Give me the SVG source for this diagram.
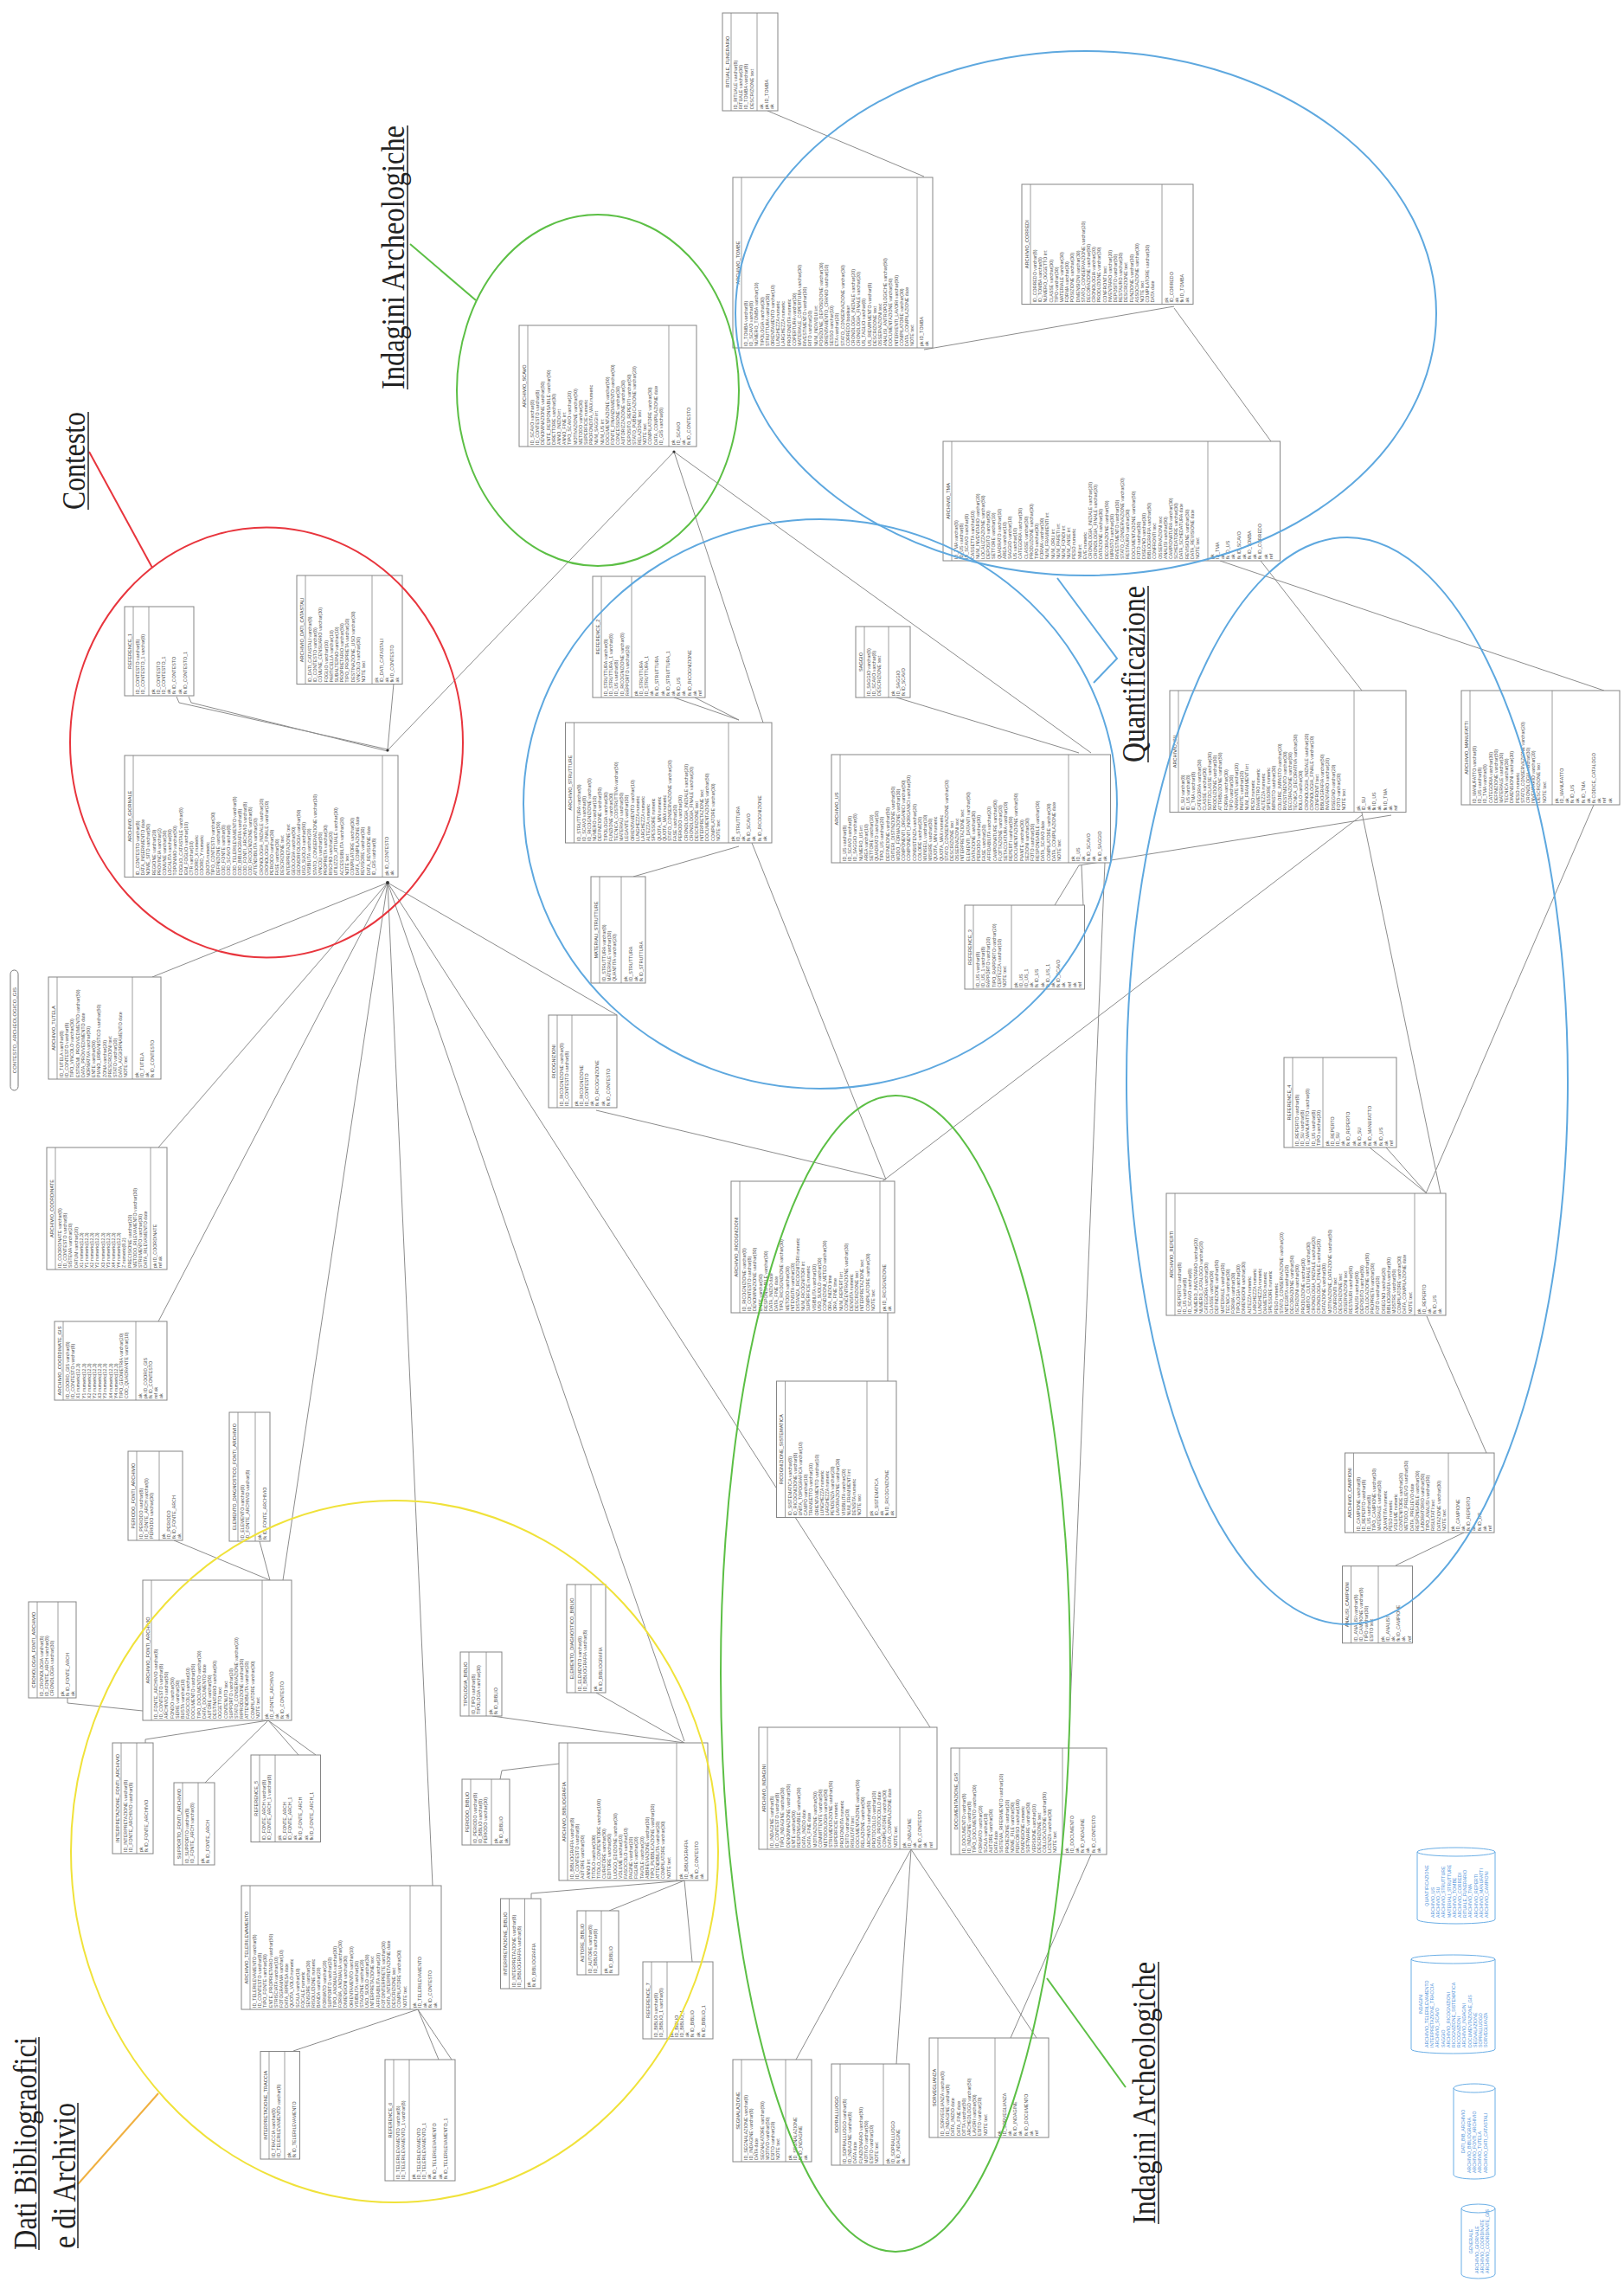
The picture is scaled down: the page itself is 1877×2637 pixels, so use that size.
<svg xmlns="http://www.w3.org/2000/svg" width="1877" height="2637" viewBox="0 0 1877 2637">
<style>
.tb rect{fill:#fff;stroke:#858585;stroke-width:1}
.tb path{fill:none;stroke:#858585;stroke-width:.8}
.tb text{font-family:"Liberation Sans",Arial,sans-serif;font-size:5.3px;fill:#4e4e4e}
.tb .h{text-anchor:middle;font-size:5.6px;fill:#444}
.cn path{fill:none;stroke:#8c8c8c;stroke-width:1}
.grp{fill:none;stroke-width:2}
.lbl{font-family:"Liberation Serif","Times New Roman",serif;font-size:38px;fill:#222}
.ul{stroke:#222;stroke-width:1.5}
.cy path{fill:#fff;stroke:#6aaee6;stroke-width:1}
.cy text{font-family:"Liberation Sans",Arial,sans-serif;font-size:5.2px;fill:#4a90d9}
.cy .h{text-anchor:middle}
</style>
<rect width="1877" height="2637" fill="#fff"/>
<g id="connectors" class="cn">
<path d="M887 128L1068 204"/><path d="M1357 354L1068 404"/><path d="M1357 356L1469 510"/>
<path d="M204 805L207 812L448 866"/><path d="M218 805L221 812L448 868"/><path d="M455 790L448 866"/>
<path d="M448 867L779 522"/><path d="M448 1020L176 1129"/><path d="M448 1020L183 1326"/><path d="M448 1020L183 1527"/>
<path d="M448 1020L327 1826"/><path d="M448 1020L500 2179"/><path d="M448 1020L791 2012"/><path d="M448 1020L1075 1996"/>
<path d="M448 1020L713 1173"/><path d="M779 522L882 835"/><path d="M779 522L1261 870"/>
<path d="M779 806L854 832"/><path d="M803 806L854 832"/><path d="M854 978L732 1013"/>
<path d="M869 974L1024 1363"/><path d="M689 1283L1024 1363"/><path d="M1036 806L1247 870"/>
<path d="M1247 1000L1608 942"/><path d="M1247 1000L1219 1046"/><path d="M1250 1000L1252 1046"/>
<path d="M1277 997L1235 2020"/><path d="M1457 648L1574 798"/><path d="M1410 648L1854 798"/>
<path d="M1574 939L1665 1379"/><path d="M1842 930L1648 1379"/><path d="M1574 942L1020 1365"/>
<path d="M1583 1326L1649 1379"/><path d="M1602 1326L1649 1379"/><path d="M1649 1521L1718 1679"/>
<path d="M1613 1809L1692 1771"/><path d="M1026 1596L1026 1517"/>
<path d="M78 1962L78 1968L165 1977"/><path d="M201 1780L312 1826"/><path d="M300 1781L312 1826"/>
<path d="M310 1988L168 2010L168 2014"/><path d="M310 1988L237 2060"/><path d="M310 1988L345 2028"/><path d="M310 1988L365 2028"/>
<path d="M483 2322L339 2370"/><path d="M483 2322L507 2380"/><path d="M483 2322L522 2380"/>
<path d="M569 1983L791 2014"/><path d="M689 1956L791 2014"/><path d="M578 2056L580 2046L646 2038"/>
<path d="M791 2173L614 2188L614 2194"/><path d="M791 2173L704 2208"/><path d="M791 2173L800 2267"/>
<path d="M1053 2137L920 2380"/><path d="M1053 2137L1036 2385"/><path d="M1053 2137L1198 2355"/><path d="M1261 2143L1168 2355"/>
<circle cx="448" cy="1020" r="2" fill="#333"/><circle cx="448" cy="867" r="1.6" fill="#333"/><circle cx="779" cy="522" r="1.6" fill="#333"/>
</g>

<g id="t-rituale" class="tb" transform="translate(835,128) rotate(-90)">
<rect width="113" height="64"/><path d="M0 10H113M0 40H113"/><text class="h" x="56.5" y="7.5">RITUALE_FUNERARIO</text>
<g transform="translate(2,0)"><text y="17">ID_RITUALE varchar(8)</text><text y="23.2">RITUALE varchar(30)</text><text y="29.4">ID_TOMBA varchar(8)</text><text y="35.6">DESCRIZIONE text</text>
<text y="46.5">ak</text><text y="52.7">pk ID_TOMBA</text><text y="58.9">ak</text></g></g>

<g id="t-tombe" class="tb" transform="translate(847,402) rotate(-90)">
<rect width="197" height="231"/><path d="M0 10H197M0 213H197"/><text class="h" x="98.5" y="7.5">ARCHIVIO_TOMBE</text>
<g transform="translate(2,0)"><text y="17">ID_TOMBA varchar(8)</text><text y="23.2">ID_SCAVO varchar(8)</text><text y="29.4">NUMERO_TOMBA varchar(10)</text><text y="35.6">TIPOLOGIA varchar(30)</text><text y="41.8">STRUTTURA varchar(30)</text><text y="48">ORIENTAMENTO varchar(10)</text><text y="54.2">LUNGHEZZA numeric</text><text y="60.4">LARGHEZZA numeric</text><text y="66.6">PROFONDITA numeric</text><text y="72.8">COPERTURA varchar(30)</text><text y="79">MATERIALE_COPERTURA varchar(30)</text><text y="85.2">RIVESTIMENTO varchar(30)</text><text y="91.4">RITO varchar(20)</text><text y="97.6">NUM_INDIVIDUI int</text><text y="103.8">POSIZIONE_DEPOSIZIONE varchar(30)</text><text y="110">ORIENTAMENTO_CRANIO varchar(10)</text><text y="116.2">SESSO varchar(10)</text><text y="122.4">ETA varchar(20)</text><text y="128.6">STATO_CONSERVAZIONE varchar(30)</text><text y="134.8">CORREDO boolean</text><text y="141">CRONOLOGIA_INIZIALE varchar(20)</text><text y="147.2">CRONOLOGIA_FINALE varchar(20)</text><text y="153.4">US_TAGLIO varchar(8)</text><text y="159.6">US_RIEMPIMENTO varchar(8)</text><text y="165.8">DESCRIZIONE text</text><text y="172">OSSERVAZIONI text</text><text y="178.2">ANALISI_ANTROPOLOGICHE varchar(50)</text><text y="184.4">DOCUMENTAZIONE varchar(50)</text><text y="190.6">INTERVENTI_LAVORI varchar(50)</text><text y="196.8">COMPILATORE varchar(30)</text><text y="203">DATA_COMPILAZIONE date</text><text y="209.2">NOTE text</text>
<text y="219.5">pk ID_TOMBA</text><text y="225.7">ak</text></g></g>

<g id="t-corredo" class="tb" transform="translate(1181,351.5) rotate(-90)">
<rect width="138.5" height="198"/><path d="M0 10H138.5M0 162H138.5"/><text class="h" x="69.25" y="7.5">ARCHIVIO_CORREDI</text>
<g transform="translate(2,0)"><text y="17">ID_CORREDO varchar(8)</text><text y="23.2">ID_TOMBA varchar(8)</text><text y="29.4">NUMERO_OGGETTO int</text><text y="35.6">CLASSE varchar(30)</text><text y="41.8">TIPO varchar(30)</text><text y="48">MATERIALE varchar(30)</text><text y="54.2">FORMA varchar(30)</text><text y="60.4">POSIZIONE varchar(30)</text><text y="66.6">DIMENSIONI varchar(30)</text><text y="72.8">STATO_CONSERVAZIONE varchar(20)</text><text y="79">DECORAZIONE varchar(50)</text><text y="85.2">CRONOLOGIA varchar(20)</text><text y="91.4">PRODUZIONE varchar(30)</text><text y="97.6">CONFRONTI text</text><text y="103.8">INVENTARIO varchar(20)</text><text y="110">DEPOSITO varchar(50)</text><text y="116.2">RESTAURO varchar(30)</text><text y="122.4">DESCRIZIONE text</text><text y="128.6">FUNZIONE varchar(30)</text><text y="134.8">ASSOCIAZIONE varchar(30)</text><text y="141">NOTE text</text><text y="147.2">COMPILATORE varchar(30)</text><text y="153.4">DATA date</text>
<text y="168.5">pk</text><text y="174.7">ID_CORREDO</text><text y="180.9">ak</text><text y="187.1">fk ID_TOMBA</text><text y="193.3">ak</text></g></g>

<g id="t-tma" class="tb" transform="translate(1090,648) rotate(-90)">
<rect width="138" height="389.5"/><path d="M0 10H138M0 306H138"/><text class="h" x="69" y="7.5">ARCHIVIO_TMA</text>
<g transform="translate(2,0)"><text y="17">ID_TMA varchar(8)</text><text y="23.2">ID_US varchar(8)</text><text y="29.4">ID_SCAVO varchar(8)</text><text y="35.6">CASSETTA varchar(10)</text><text y="41.8">NUM_INVENTARIO varchar(20)</text><text y="48">LOCALIZZAZIONE varchar(50)</text><text y="54.2">DEPOSITO varchar(50)</text><text y="60.4">SETTORE varchar(10)</text><text y="66.6">QUADRATO varchar(10)</text><text y="72.8">AREA varchar(10)</text><text y="79">SAGGIO varchar(10)</text><text y="85.2">US varchar(10)</text><text y="91.4">CATEGORIA varchar(30)</text><text y="97.6">CLASSE varchar(30)</text><text y="103.8">PRODUZIONE varchar(30)</text><text y="110">TIPO varchar(30)</text><text y="116.2">FORMA varchar(30)</text><text y="122.4">NUM_FRAMMENTI int</text><text y="128.6">NUM_ORLI int</text><text y="134.8">NUM_PARETI int</text><text y="141">NUM_FONDI int</text><text y="147.2">NUM_ANSE int</text><text y="153.4">PESO numeric</text><text y="159.6">NMI int</text><text y="165.8">EVE numeric</text><text y="172">CRONOLOGIA_INIZIALE varchar(20)</text><text y="178.2">CRONOLOGIA_FINALE varchar(20)</text><text y="184.4">DATAZIONE varchar(30)</text><text y="190.6">DECORAZIONE varchar(50)</text><text y="196.8">IMPASTO varchar(30)</text><text y="203">RIVESTIMENTO varchar(30)</text><text y="209.2">STATO_CONSERVAZIONE varchar(20)</text><text y="215.4">RESTAURO varchar(30)</text><text y="221.6">DOCUMENTAZIONE varchar(50)</text><text y="227.8">FOTO varchar(30)</text><text y="234">DISEGNO varchar(30)</text><text y="240.2">BIBLIOGRAFIA varchar(50)</text><text y="246.4">CONFRONTI text</text><text y="252.6">OSSERVAZIONI text</text><text y="258.8">ANALISI varchar(50)</text><text y="265">CAMPIONATURA varchar(30)</text><text y="271.2">SCHEDATORE varchar(30)</text><text y="277.4">DATA_SCHEDATURA date</text><text y="283.6">REVISIONE varchar(30)</text><text y="289.8">DATA_REVISIONE date</text><text y="296">NOTE text</text>
<text y="312.5">pk</text><text y="318.7">ID_TMA</text><text y="324.9">ak</text><text y="331.1">fk ID_US</text><text y="337.3">ak</text><text y="343.5">fk ID_SCAVO</text><text y="349.7">ak</text><text y="355.9">fk ID_TOMBA</text><text y="362.1">ak</text><text y="368.3">fk ID_CORREDO</text><text y="374.5">ak</text><text y="380.7">ref</text></g></g>

<g id="t-scavo" class="tb" transform="translate(600,516) rotate(-90)">
<rect width="140" height="205"/><path d="M0 10H140M0 173H140"/><text class="h" x="70" y="7.5">ARCHIVIO_SCAVO</text>
<g transform="translate(2,0)"><text y="17">ID_SCAVO varchar(8)</text><text y="23.2">ID_CONTESTO varchar(8)</text><text y="29.4">DENOMINAZIONE varchar(50)</text><text y="35.6">ENTE_RESPONSABILE varchar(50)</text><text y="41.8">DIRETTORE varchar(30)</text><text y="48">ANNO_INIZIO int</text><text y="54.2">ANNO_FINE int</text><text y="60.4">TIPO_SCAVO varchar(20)</text><text y="66.6">MOTIVAZIONE varchar(50)</text><text y="72.8">METODO varchar(30)</text><text y="79">SUPERFICIE numeric</text><text y="85.2">PROFONDITA_MAX numeric</text><text y="91.4">NUM_SAGGI int</text><text y="97.6">NUM_US int</text><text y="103.8">DOCUMENTAZIONE varchar(50)</text><text y="110">FONTE_FINANZIAMENTO varchar(50)</text><text y="116.2">CONCESSIONE varchar(30)</text><text y="122.4">AUTORIZZAZIONE varchar(30)</text><text y="128.6">DEPOSITO_REPERTI varchar(50)</text><text y="134.8">STATO_PUBBLICAZIONE varchar(20)</text><text y="141">RELAZIONE text</text><text y="147.2">NOTE text</text><text y="153.4">COMPILATORE varchar(30)</text><text y="159.6">DATA_COMPILAZIONE date</text><text y="165.8">ID_GIS varchar(8)</text>
<text y="179.5">pk</text><text y="185.7">ID_SCAVO</text><text y="191.9">ak</text><text y="198.1">fk ID_CONTESTO</text></g></g>

<g id="t-ref1" class="tb" transform="translate(144,804) rotate(-90)">
<rect width="103" height="80"/><path d="M0 10H103M0 28H103"/><text class="h" x="51.5" y="7.5">REFERENCE_1</text>
<g transform="translate(2,0)"><text y="17">ID_CONTESTO varchar(8)</text><text y="23.2">ID_CONTESTO_1 varchar(8)</text>
<text y="34.5">pk</text><text y="40.7">ID_CONTESTO</text><text y="46.9">ID_CONTESTO_1</text><text y="53.1">ak</text><text y="59.3">fk ID_CONTESTO</text><text y="65.5">ak</text><text y="71.7">fk ID_CONTESTO_1</text></g></g>

<g id="t-catastali" class="tb" transform="translate(343,790.5) rotate(-90)">
<rect width="125.5" height="122"/><path d="M0 10H125.5M0 87H125.5"/><text class="h" x="62.75" y="7.5">ARCHIVIO_DATI_CATASTALI</text>
<g transform="translate(2,0)"><text y="17">ID_DATI_CATASTALI varchar(8)</text><text y="23.2">ID_CONTESTO varchar(8)</text><text y="29.4">COMUNE_CENSUARIO varchar(30)</text><text y="35.6">FOGLIO varchar(10)</text><text y="41.8">PARTICELLA varchar(10)</text><text y="48">SUBALTERNO varchar(10)</text><text y="54.2">PROPRIETARIO varchar(50)</text><text y="60.4">TIPO_PROPRIETA varchar(20)</text><text y="66.6">DESTINAZIONE_USO varchar(30)</text><text y="72.8">VINCOLO varchar(30)</text><text y="79">NOTE text</text>
<text y="93.5">pk</text><text y="99.7">ID_DATI_CATASTALI</text><text y="105.9">ak</text><text y="112.1">fk ID_CONTESTO</text><text y="118.3">ak</text></g></g>

<g id="t-giornale" class="tb" transform="translate(144,1013.6) rotate(-90)">
<rect width="140.6" height="316"/><path d="M0 10H140.6M0 298H140.6"/><text class="h" x="70.3" y="7.5">ARCHIVIO_GIORNALE</text>
<g transform="translate(2,0)"><text y="17">ID_CONTESTO varchar(8)</text><text y="23.2">DATA_INSERIMENTO date</text><text y="29.4">NOME_SITO varchar(50)</text><text y="35.6">REGIONE varchar(20)</text><text y="41.8">PROVINCIA varchar(2)</text><text y="48">COMUNE varchar(30)</text><text y="54.2">LOCALITA varchar(50)</text><text y="60.4">TOPONIMO varchar(50)</text><text y="66.6">FOGLIO_CATASTALE varchar(8)</text><text y="72.8">IGM_FOGLIO varchar(10)</text><text y="79">CTR varchar(10)</text><text y="85.2">COORD_X numeric</text><text y="91.4">COORD_Y numeric</text><text y="97.6">QUOTA numeric</text><text y="103.8">TIPO_CONTESTO varchar(30)</text><text y="110">DEFINIZIONE varchar(50)</text><text y="116.2">COD_FONTE varchar(8)</text><text y="122.4">COD_SCAVO varchar(8)</text><text y="128.6">COD_TELERILEVAMENTO varchar(8)</text><text y="134.8">COD_BIBLIOGRAFIA varchar(8)</text><text y="141">COD_FONTI_ARCHIVIO varchar(8)</text><text y="147.2">COD_RICOGNIZIONE varchar(8)</text><text y="153.4">ATTENDIBILITA varchar(20)</text><text y="159.6">CRONOLOGIA_INIZIALE varchar(20)</text><text y="165.8">CRONOLOGIA_FINALE varchar(20)</text><text y="172">PERIODO varchar(30)</text><text y="178.2">FASE varchar(30)</text><text y="184.4">DESCRIZIONE text</text><text y="190.6">INTERPRETAZIONE text</text><text y="196.8">GEOLOGIA varchar(50)</text><text y="203">GEOMORFOLOGIA varchar(50)</text><text y="209.2">USO_SUOLO varchar(50)</text><text y="215.4">VISIBILITA varchar(20)</text><text y="221.6">STATO_CONSERVAZIONE varchar(30)</text><text y="227.8">VINCOLI varchar(50)</text><text y="234">PROPRIETA varchar(30)</text><text y="240.2">RISCHIO varchar(20)</text><text y="246.4">UTILIZZO_ATTUALE varchar(30)</text><text y="252.6">ACCESSIBILITA varchar(20)</text><text y="258.8">NOTE text</text><text y="265">COMPILATORE varchar(30)</text><text y="271.2">DATA_COMPILAZIONE date</text><text y="277.4">REVISORE varchar(30)</text><text y="283.6">DATA_REVISIONE date</text><text y="289.8">ID_GIS varchar(8)</text>
<text y="304.5">pk ID_CONTESTO</text><text y="310.7">ak</text></g></g>

<g id="t-tutela" class="tb" transform="translate(56,1247) rotate(-90)">
<rect width="118" height="130"/><path d="M0 10H118M0 97H118"/><text class="h" x="59" y="7.5">ARCHIVIO_TUTELA</text>
<g transform="translate(2,0)"><text y="17">ID_TUTELA varchar(8)</text><text y="23.2">ID_CONTESTO varchar(8)</text><text y="29.4">TIPO_VINCOLO varchar(30)</text><text y="35.6">ESTREMI_PROVVEDIMENTO varchar(50)</text><text y="41.8">DATA_PROVVEDIMENTO date</text><text y="48">NORMATIVA varchar(50)</text><text y="54.2">ENTE varchar(50)</text><text y="60.4">PIANO_URBANISTICO varchar(50)</text><text y="66.6">ZONA varchar(20)</text><text y="72.8">PRESCRIZIONI text</text><text y="79">STATO varchar(20)</text><text y="85.2">DATA_AGGIORNAMENTO date</text><text y="91.4">NOTE text</text>
<text y="103.5">pk</text><text y="109.7">ID_TUTELA</text><text y="115.9">ak</text><text y="122.1">fk ID_CONTESTO</text></g></g>

<g id="n-gis" transform="translate(19.5,1190.5) rotate(-90)">
<rect x="-69.5" y="-7.5" width="139" height="9" rx="4.5" fill="#fff" stroke="#777" stroke-width="1"/>
<text x="0" y="-1" text-anchor="middle" font-family="Liberation Sans, Arial, sans-serif" font-size="6" fill="#555">CONTESTO_ARCHEOLOGICO_GIS</text></g>

<g id="t-ref2" class="tb" transform="translate(685,806) rotate(-90)">
<rect width="140" height="130"/><path d="M0 10H140M0 45H140"/><text class="h" x="70" y="7.5">REFERENCE_2</text>
<g transform="translate(2,0)"><text y="17">ID_STRUTTURA varchar(8)</text><text y="23.2">ID_STRUTTURA_1 varchar(8)</text><text y="29.4">ID_US varchar(8)</text><text y="35.6">ID_RICOGNIZIONE varchar(8)</text><text y="41.8">RAPPORTO varchar(20)</text>
<text y="51.5">pk</text><text y="57.7">ID_STRUTTURA</text><text y="63.9">ID_STRUTTURA_1</text><text y="70.1">ak</text><text y="76.3">fk ID_STRUTTURA</text><text y="82.5">ak</text><text y="88.7">fk ID_STRUTTURA_1</text><text y="94.9">ak</text><text y="101.1">fk ID_US</text><text y="107.3">ak</text><text y="113.5">fk ID_RICOGNIZIONE</text><text y="119.7">ak</text><text y="125.9">ref</text></g></g>

<g id="t-strutture" class="tb" transform="translate(653.5,974) rotate(-90)">
<rect width="139" height="238.5"/><path d="M0 10H139M0 188.5H139"/><text class="h" x="69.5" y="7.5">ARCHIVIO_STRUTTURE</text>
<g transform="translate(2,0)"><text y="17">ID_STRUTTURA varchar(8)</text><text y="23.2">ID_SCAVO varchar(8)</text><text y="29.4">ID_RICOGNIZIONE varchar(8)</text><text y="35.6">NUMERO varchar(10)</text><text y="41.8">DEFINIZIONE varchar(50)</text><text y="48">TIPOLOGIA varchar(30)</text><text y="54.2">FUNZIONE varchar(30)</text><text y="60.4">TECNICA_COSTRUTTIVA varchar(50)</text><text y="66.6">MATERIALI varchar(50)</text><text y="72.8">LEGANTE varchar(30)</text><text y="79">ORIENTAMENTO varchar(10)</text><text y="85.2">LUNGHEZZA numeric</text><text y="91.4">LARGHEZZA numeric</text><text y="97.6">ALTEZZA numeric</text><text y="103.8">SPESSORE numeric</text><text y="110">QUOTA_MIN numeric</text><text y="116.2">QUOTA_MAX numeric</text><text y="122.4">STATO_CONSERVAZIONE varchar(20)</text><text y="128.6">FASE varchar(20)</text><text y="134.8">PERIODO varchar(30)</text><text y="141">CRONOLOGIA_INIZIALE varchar(20)</text><text y="147.2">CRONOLOGIA_FINALE varchar(20)</text><text y="153.4">DESCRIZIONE text</text><text y="159.6">INTERPRETAZIONE text</text><text y="165.8">DOCUMENTAZIONE varchar(50)</text><text y="172">COMPILATORE varchar(30)</text><text y="178.2">NOTE text</text>
<text y="195">pk</text><text y="201.2">ID_STRUTTURA</text><text y="207.4">ak</text><text y="213.6">fk ID_SCAVO</text><text y="219.8">ak</text><text y="226">fk ID_RICOGNIZIONE</text><text y="232.2">ak</text></g></g>

<g id="t-materiali" class="tb" transform="translate(683,1136) rotate(-90)">
<rect width="123" height="63"/><path d="M0 10H123M0 35H123"/><text class="h" x="61.5" y="7.5">MATERIALI_STRUTTURE</text>
<g transform="translate(2,0)"><text y="17">ID_STRUTTURA varchar(8)</text><text y="23.2">MATERIALE varchar(30)</text><text y="29.4">QUANTITA varchar(20)</text>
<text y="41.5">pk</text><text y="47.7">ID_STRUTTURA</text><text y="53.9">ak</text><text y="60.1">fk ID_STRUTTURA</text></g></g>

<g id="t-ricognizioni" class="tb" transform="translate(634,1280) rotate(-90)">
<rect width="107" height="79"/><path d="M0 10H107M0 27H107"/><text class="h" x="53.5" y="7.5">RICOGNIZIONI</text>
<g transform="translate(2,0)"><text y="17">ID_RICOGNIZIONE varchar(8)</text><text y="23.2">ID_CONTESTO varchar(8)</text>
<text y="33.5">pk</text><text y="39.7">ID_RICOGNIZIONE</text><text y="45.9">ID_CONTESTO</text><text y="52.1">ak</text><text y="58.3">fk ID_RICOGNIZIONE</text><text y="64.5">ak</text><text y="70.7">fk ID_CONTESTO</text></g></g>

<g id="t-saggio" class="tb" transform="translate(989,806) rotate(-90)">
<rect width="82" height="63"/><path d="M0 10H82M0 38H82"/><text class="h" x="41" y="7.5">SAGGIO</text>
<g transform="translate(2,0)"><text y="17">ID_SAGGIO varchar(8)</text><text y="23.2">ID_SCAVO varchar(8)</text><text y="29.4">DESCRIZIONE text</text>
<text y="44.5">pk</text><text y="50.7">ID_SAGGIO</text><text y="56.9">fk ID_SCAVO</text></g></g>

<g id="t-us" class="tb" transform="translate(961,997) rotate(-90)">
<rect width="125" height="322.5"/><path d="M0 10H125M0 274H125"/><text class="h" x="62.5" y="7.5">ARCHIVIO_US</text>
<g transform="translate(2,0)"><text y="17">ID_US varchar(8)</text><text y="23.2">ID_SCAVO varchar(8)</text><text y="29.4">ID_SAGGIO varchar(8)</text><text y="35.6">NUMERO_US int</text><text y="41.8">AREA varchar(10)</text><text y="48">SETTORE varchar(10)</text><text y="54.2">QUADRATO varchar(10)</text><text y="60.4">TIPO_US varchar(20)</text><text y="66.6">DEFINIZIONE varchar(50)</text><text y="72.8">CRITERI_DISTINZIONE varchar(50)</text><text y="79">MODO_FORMAZIONE varchar(30)</text><text y="85.2">COMPONENTI_ORGANICI varchar(50)</text><text y="91.4">COMPONENTI_INORGANICI varchar(50)</text><text y="97.6">CONSISTENZA varchar(20)</text><text y="103.8">COLORE varchar(20)</text><text y="110">MUNSELL varchar(10)</text><text y="116.2">MISURE varchar(30)</text><text y="122.4">QUOTA_MIN numeric</text><text y="128.6">QUOTA_MAX numeric</text><text y="134.8">STATO_CONSERVAZIONE varchar(20)</text><text y="141">DESCRIZIONE text</text><text y="147.2">OSSERVAZIONI text</text><text y="153.4">INTERPRETAZIONE text</text><text y="159.6">ELEMENTI_DATANTI varchar(50)</text><text y="165.8">DATAZIONE varchar(30)</text><text y="172">PERIODO varchar(30)</text><text y="178.2">FASE varchar(20)</text><text y="184.4">AFFIDABILITA varchar(20)</text><text y="190.6">CAMPIONATURE varchar(50)</text><text y="196.8">FLOTTAZIONE varchar(20)</text><text y="203">SETACCIATURA varchar(20)</text><text y="209.2">REPERTI varchar(50)</text><text y="215.4">DOCUMENTAZIONE varchar(50)</text><text y="221.6">PIANTE varchar(30)</text><text y="227.8">SEZIONI varchar(30)</text><text y="234">FOTO varchar(30)</text><text y="240.2">RESPONSABILE varchar(30)</text><text y="246.4">DATA_SCAVO date</text><text y="252.6">COMPILATORE varchar(30)</text><text y="258.8">DATA_COMPILAZIONE date</text><text y="265">NOTE text</text>
<text y="280.5">pk</text><text y="286.7">ID_US</text><text y="292.9">ak</text><text y="299.1">fk ID_SCAVO</text><text y="305.3">ak</text><text y="311.5">fk ID_SAGGIO</text><text y="317.7">ak</text></g></g>

<g id="t-ref3" class="tb" transform="translate(1115,1143) rotate(-90)">
<rect width="97" height="138.5"/><path d="M0 10H97M0 54H97"/><text class="h" x="48.5" y="7.5">REFERENCE_3</text>
<g transform="translate(2,0)"><text y="17">ID_US varchar(8)</text><text y="23.2">ID_US_1 varchar(8)</text><text y="29.4">RAPPORTO varchar(20)</text><text y="35.6">TIPO_RAPPORTO varchar(20)</text><text y="41.8">CERTEZZA varchar(10)</text><text y="48">NOTE text</text>
<text y="60.5">pk</text><text y="66.7">ID_US</text><text y="72.9">ID_US_1</text><text y="79.1">ak</text><text y="85.3">fk ID_US</text><text y="91.5">ak</text><text y="97.7">fk ID_US_1</text><text y="103.9">ak</text><text y="110.1">fk ID_SCAVO</text><text y="116.3">ak</text><text y="122.5">ref</text><text y="128.7">ak</text><text y="134.9">ref</text></g></g>

<g id="t-su" class="tb" transform="translate(1352,938.6) rotate(-90)">
<rect width="140.6" height="273"/><path d="M0 10H140.6M0 213H140.6"/><text class="h" x="70.3" y="7.5">ARCHIVIO_SU</text>
<g transform="translate(2,0)"><text y="17">ID_SU varchar(8)</text><text y="23.2">ID_US varchar(8)</text><text y="29.4">ID_TMA varchar(8)</text><text y="35.6">CATEGORIA varchar(30)</text><text y="41.8">CLASSE varchar(30)</text><text y="48">SOTTOCLASSE varchar(30)</text><text y="54.2">PRODUZIONE varchar(30)</text><text y="60.4">ATTRIBUZIONE varchar(50)</text><text y="66.6">FORMA varchar(30)</text><text y="72.8">TIPO varchar(30)</text><text y="79">VARIANTE varchar(20)</text><text y="85.2">PARTE varchar(20)</text><text y="91.4">NUM_FRAMMENTI int</text><text y="97.6">PESO numeric</text><text y="103.8">DIAMETRO numeric</text><text y="110">ALTEZZA numeric</text><text y="116.2">SPESSORE numeric</text><text y="122.4">IMPASTO varchar(30)</text><text y="128.6">COLORE_IMPASTO varchar(20)</text><text y="134.8">RIVESTIMENTO varchar(30)</text><text y="141">DECORAZIONE varchar(50)</text><text y="147.2">TECNICA_DECORATIVA varchar(30)</text><text y="153.4">BOLLO varchar(30)</text><text y="159.6">CRONOLOGIA_INIZIALE varchar(20)</text><text y="165.8">CRONOLOGIA_FINALE varchar(20)</text><text y="172">CONFRONTI text</text><text y="178.2">BIBLIOGRAFIA varchar(50)</text><text y="184.4">INVENTARIO varchar(20)</text><text y="190.6">DISEGNO varchar(20)</text><text y="196.8">FOTO varchar(20)</text><text y="203">NOTE text</text>
<text y="219.5">pk</text><text y="225.7">ID_SU</text><text y="231.9">ak</text><text y="238.1">fk ID_US</text><text y="244.3">ak</text><text y="250.5">fk ID_TMA</text><text y="256.7">ak</text><text y="262.9">ref</text></g></g>

<g id="t-manufatti" class="tb" transform="translate(1689,930) rotate(-90)">
<rect width="132" height="183"/><path d="M0 10H132M0 105H132"/><text class="h" x="66" y="7.5">ARCHIVIO_MANUFATTI</text>
<g transform="translate(2,0)"><text y="17">ID_MANUFATTO varchar(8)</text><text y="23.2">ID_US varchar(8)</text><text y="29.4">ID_TMA varchar(8)</text><text y="35.6">CATEGORIA varchar(30)</text><text y="41.8">DEFINIZIONE varchar(50)</text><text y="48">MATERIALE varchar(30)</text><text y="54.2">TECNICA varchar(30)</text><text y="60.4">DIMENSIONI varchar(30)</text><text y="66.6">PESO numeric</text><text y="72.8">STATO_CONSERVAZIONE varchar(20)</text><text y="79">CRONOLOGIA varchar(30)</text><text y="85.2">INVENTARIO varchar(20)</text><text y="91.4">DESCRIZIONE text</text><text y="97.6">NOTE text</text>
<text y="111.5">pk</text><text y="117.7">ID_MANUFATTO</text><text y="123.9">ak</text><text y="130.1">fk ID_US</text><text y="136.3">ak</text><text y="142.5">fk ID_TMA</text><text y="148.7">ak</text><text y="154.9">fk CODICE_CATALOGO</text><text y="161.1">ak</text><text y="167.3">ref</text><text y="173.5">ak</text></g></g>

<g id="t-ref4" class="tb" transform="translate(1484,1326) rotate(-90)">
<rect width="104" height="130"/><path d="M0 10H104M0 45H104"/><text class="h" x="52" y="7.5">REFERENCE_4</text>
<g transform="translate(2,0)"><text y="17">ID_REPERTO varchar(8)</text><text y="23.2">ID_SU varchar(8)</text><text y="29.4">ID_MANUFATTO varchar(8)</text><text y="35.6">ID_US varchar(8)</text><text y="41.8">TIPO varchar(20)</text>
<text y="51.5">pk</text><text y="57.7">ID_REPERTO</text><text y="63.9">ID_SU</text><text y="70.1">ak</text><text y="76.3">fk ID_REPERTO</text><text y="82.5">ak</text><text y="88.7">fk ID_SU</text><text y="94.9">ak</text><text y="101.1">fk ID_MANUFATTO</text><text y="107.3">ak</text><text y="113.5">fk ID_US</text><text y="119.7">ak</text><text y="125.9">ref</text></g></g>

<g id="t-reperti" class="tb" transform="translate(1348,1520) rotate(-90)">
<rect width="141" height="323"/><path d="M0 10H141M0 287H141"/><text class="h" x="70.5" y="7.5">ARCHIVIO_REPERTI</text>
<g transform="translate(2,0)"><text y="17">ID_REPERTO varchar(8)</text><text y="23.2">ID_US varchar(8)</text><text y="29.4">ID_SCAVO varchar(8)</text><text y="35.6">NUMERO_INVENTARIO varchar(20)</text><text y="41.8">NUMERO_CATALOGO varchar(20)</text><text y="48">CATEGORIA varchar(30)</text><text y="54.2">CLASSE varchar(30)</text><text y="60.4">DEFINIZIONE varchar(50)</text><text y="66.6">MATERIALE varchar(30)</text><text y="72.8">TECNICA varchar(30)</text><text y="79">FORMA varchar(30)</text><text y="85.2">TIPOLOGIA varchar(30)</text><text y="91.4">DIMENSIONI varchar(30)</text><text y="97.6">ALTEZZA numeric</text><text y="103.8">LARGHEZZA numeric</text><text y="110">LUNGHEZZA numeric</text><text y="116.2">DIAMETRO numeric</text><text y="122.4">SPESSORE numeric</text><text y="128.6">PESO numeric</text><text y="134.8">STATO_CONSERVAZIONE varchar(20)</text><text y="141">INTEGRITA varchar(20)</text><text y="147.2">DECORAZIONE varchar(50)</text><text y="153.4">ISCRIZIONI varchar(50)</text><text y="159.6">PRODUZIONE varchar(30)</text><text y="165.8">AMBITO_CULTURALE varchar(30)</text><text y="172">CRONOLOGIA_INIZIALE varchar(20)</text><text y="178.2">CRONOLOGIA_FINALE varchar(20)</text><text y="184.4">DATAZIONE varchar(30)</text><text y="190.6">MOTIVAZIONE_DATAZIONE varchar(50)</text><text y="196.8">CONFRONTI text</text><text y="203">DESCRIZIONE text</text><text y="209.2">OSSERVAZIONI text</text><text y="215.4">RESTAURI varchar(50)</text><text y="221.6">ANALISI varchar(50)</text><text y="227.8">DEPOSITO varchar(50)</text><text y="234">COLLOCAZIONE varchar(50)</text><text y="240.2">PROPRIETA varchar(30)</text><text y="246.4">FOTO varchar(20)</text><text y="252.6">DISEGNO varchar(20)</text><text y="258.8">BIBLIOGRAFIA varchar(50)</text><text y="265">MOSTRE varchar(50)</text><text y="271.2">COMPILATORE varchar(30)</text><text y="277.4">DATA_COMPILAZIONE date</text><text y="283.6">NOTE text</text>
<text y="293.5">pk</text><text y="299.7">ID_REPERTO</text><text y="305.9">ak</text><text y="312.1">fk ID_US</text><text y="318.3">ak</text></g></g>

<g id="t-campioni" class="tb" transform="translate(1554.5,1771) rotate(-90)">
<rect width="92" height="172.5"/><path d="M0 10H92M0 119.5H92"/><text class="h" x="46" y="7.5">ARCHIVIO_CAMPIONI</text>
<g transform="translate(2,0)"><text y="17">ID_CAMPIONE varchar(8)</text><text y="23.2">ID_REPERTO varchar(8)</text><text y="29.4">ID_US varchar(8)</text><text y="35.6">TIPO_CAMPIONE varchar(30)</text><text y="41.8">MATERIALE varchar(30)</text><text y="48">QUANTITA numeric</text><text y="54.2">PESO numeric</text><text y="60.4">VOLUME numeric</text><text y="66.6">CONTENITORE varchar(20)</text><text y="72.8">METODO_PRELIEVO varchar(30)</text><text y="79">DATA_PRELIEVO date</text><text y="85.2">RESPONSABILE varchar(30)</text><text y="91.4">LABORATORIO varchar(50)</text><text y="97.6">TIPO_ANALISI varchar(30)</text><text y="103.8">RISULTATI text</text><text y="110">DATAZIONE varchar(30)</text><text y="116.2">NOTE text</text>
<text y="126">pk</text><text y="132.2">ID_CAMPIONE</text><text y="138.4">ak</text><text y="144.6">fk ID_REPERTO</text><text y="150.8">ak</text><text y="157">fk ID_US</text><text y="163.2">ak</text><text y="169.4">ref</text></g></g>

<g id="t-analisi" class="tb" transform="translate(1551.5,1898.7) rotate(-90)">
<rect width="89" height="81"/><path d="M0 10H89M0 41.5H89"/><text class="h" x="44.5" y="7.5">ANALISI_CAMPIONI</text>
<g transform="translate(2,0)"><text y="17">ID_ANALISI varchar(8)</text><text y="23.2">ID_CAMPIONE varchar(8)</text><text y="29.4">TIPO varchar(30)</text><text y="35.6">ESITO text</text>
<text y="48">pk</text><text y="54.2">ID_ANALISI</text><text y="60.4">ak</text><text y="66.6">fk ID_CAMPIONE</text><text y="72.8">ak</text><text y="79">ref</text></g></g>

<g id="t-coord" class="tb" transform="translate(54,1467) rotate(-90)">
<rect width="141" height="139"/><path d="M0 10H141M0 120H141"/><text class="h" x="70.5" y="7.5">ARCHIVIO_COORDINATE</text>
<g transform="translate(2,0)"><text y="17">ID_COORDINATE varchar(8)</text><text y="23.2">ID_CONTESTO varchar(8)</text><text y="29.4">SISTEMA varchar(20)</text><text y="35.6">DATUM varchar(20)</text><text y="41.8">X1 numeric(12,3)</text><text y="48">Y1 numeric(12,3)</text><text y="54.2">X2 numeric(12,3)</text><text y="60.4">Y2 numeric(12,3)</text><text y="66.6">X3 numeric(12,3)</text><text y="72.8">Y3 numeric(12,3)</text><text y="79">X4 numeric(12,3)</text><text y="85.2">Y4 numeric(12,3)</text><text y="91.4">Z numeric(8,2)</text><text y="97.6">PRECISIONE varchar(20)</text><text y="103.8">METODO_RILEVAMENTO varchar(30)</text><text y="110">STRUMENTO varchar(30)</text><text y="116.2">DATA_RILEVAMENTO date</text>
<text y="126.5">pk ID_COORDINATE</text><text y="132.7">ref ak</text></g></g>

<g id="t-coordgis" class="tb" transform="translate(63,1618) rotate(-90)">
<rect width="91" height="130"/><path d="M0 10H91M0 94H91"/><text class="h" x="45.5" y="7.5">ARCHIVIO_COORDINATE_GIS</text>
<g transform="translate(2,0)"><text y="17">ID_COORD_GIS varchar(8)</text><text y="23.2">ID_CONTESTO varchar(8)</text><text y="29.4">X1 numeric(12,3)</text><text y="35.6">Y1 numeric(12,3)</text><text y="41.8">X2 numeric(12,3)</text><text y="48">Y2 numeric(12,3)</text><text y="54.2">X3 numeric(12,3)</text><text y="60.4">Y3 numeric(12,3)</text><text y="66.6">X4 numeric(12,3)</text><text y="72.8">Y4 numeric(12,3)</text><text y="79">TIPO_GEOMETRIA varchar(20)</text><text y="85.2">COD_QUADRANTE varchar(10)</text>
<text y="100.5">ak</text><text y="106.7">pk ID_COORD_GIS</text><text y="112.9">fk ID_CONTESTO</text><text y="119.1">ref ak</text><text y="125.3">ak</text></g></g>

<g id="t-periodo-fa" class="tb" transform="translate(148,1780) rotate(-90)">
<rect width="103" height="63"/><path d="M0 10H103M0 36H103"/><text class="h" x="51.5" y="7.5">PERIODO_FONTI_ARCHIVIO</text>
<g transform="translate(2,0)"><text y="17">ID_PERIODO varchar(8)</text><text y="23.2">ID_FONTE_ARCH varchar(8)</text><text y="29.4">PERIODO varchar(30)</text>
<text y="42.5">pk</text><text y="48.7">ID_PERIODO</text><text y="54.9">fk ID_FONTE_ARCH</text><text y="61.1">ak</text></g></g>

<g id="t-elem-fa" class="tb" transform="translate(265,1781) rotate(-90)">
<rect width="149" height="47"/><path d="M0 10H149M0 30H149"/><text class="h" x="74.5" y="7.5">ELEMENTO_DIAGNOSTICO_FONTI_ARCHIVIO</text>
<g transform="translate(2,0)"><text y="17">ID_ELEMENTO varchar(8)</text><text y="23.2">ID_FONTE_ARCHIVIO varchar(8)</text>
<text y="36.5">pk</text><text y="42.7">fk ID_FONTE_ARCHIVIO</text></g></g>

<g id="t-fonti" class="tb" transform="translate(165,1988) rotate(-90)">
<rect width="162" height="172"/><path d="M0 10H162M0 138H162"/><text class="h" x="81" y="7.5">ARCHIVIO_FONTI_ARCHIVIO</text>
<g transform="translate(2,0)"><text y="17">ID_FONTE_ARCHIVIO varchar(8)</text><text y="23.2">ID_CONTESTO varchar(8)</text><text y="29.4">ARCHIVIO varchar(50)</text><text y="35.6">FONDO varchar(50)</text><text y="41.8">SERIE varchar(30)</text><text y="48">BUSTA varchar(10)</text><text y="54.2">FASCICOLO varchar(10)</text><text y="60.4">DOCUMENTO varchar(50)</text><text y="66.6">TIPO_DOCUMENTO varchar(30)</text><text y="72.8">DATA_DOCUMENTO date</text><text y="79">AUTORE varchar(50)</text><text y="85.2">DESTINATARIO varchar(50)</text><text y="91.4">OGGETTO text</text><text y="97.6">CONTENUTO text</text><text y="103.8">SUPPORTO varchar(20)</text><text y="110">STATO_CONSERVAZIONE varchar(20)</text><text y="116.2">RIPRODUZIONE varchar(30)</text><text y="122.4">ATTENDIBILITA varchar(20)</text><text y="128.6">COMPILATORE varchar(30)</text><text y="134.8">NOTE text</text>
<text y="144.5">pk</text><text y="150.7">ID_FONTE_ARCHIVIO</text><text y="156.9">ak</text><text y="163.1">fk ID_CONTESTO</text><text y="169.3">ak</text></g></g>

<g id="t-crono-fa" class="tb" transform="translate(33,1962) rotate(-90)">
<rect width="111" height="55"/><path d="M0 10H111M0 34H111"/><text class="h" x="55.5" y="7.5">CRONOLOGIA_FONTI_ARCHIVIO</text>
<g transform="translate(2,0)"><text y="17">ID_CRONOLOGIA varchar(8)</text><text y="23.2">ID_FONTE_ARCH varchar(8)</text><text y="29.4">CRONOLOGIA varchar(30)</text>
<text y="40.5">pk</text><text y="46.7">fk ID_FONTE_ARCH</text><text y="52.9">ak</text></g></g>

<g id="t-ricog" class="tb" transform="translate(845,1517) rotate(-90)">
<rect width="152" height="189"/><path d="M0 10H152M0 172H152"/><text class="h" x="76" y="7.5">ARCHIVIO_RICOGNIZIONI</text>
<g transform="translate(2,0)"><text y="17">ID_RICOGNIZIONE varchar(8)</text><text y="23.2">ID_CONTESTO varchar(8)</text><text y="29.4">DENOMINAZIONE varchar(50)</text><text y="35.6">ENTE varchar(50)</text><text y="41.8">RESPONSABILE varchar(30)</text><text y="48">DATA_INIZIO date</text><text y="54.2">DATA_FINE date</text><text y="60.4">TIPO_RICOGNIZIONE varchar(30)</text><text y="66.6">METODO varchar(30)</text><text y="72.8">INTENSITA varchar(20)</text><text y="79">DISTANZA_RICOGNITORI numeric</text><text y="85.2">NUM_RICOGNITORI int</text><text y="91.4">SUPERFICIE numeric</text><text y="97.6">VISIBILITA varchar(20)</text><text y="103.8">USO_SUOLO varchar(30)</text><text y="110">CONDIZIONI_METEO varchar(30)</text><text y="116.2">ORA_INIZIO time</text><text y="122.4">ORA_FINE time</text><text y="128.6">NUM_REPERTI int</text><text y="134.8">CONCENTRAZIONE varchar(30)</text><text y="141">DENSITA numeric</text><text y="147.2">DESCRIZIONE text</text><text y="153.4">INTERPRETAZIONE text</text><text y="159.6">COMPILATORE varchar(30)</text><text y="165.8">NOTE text</text>
<text y="178.5">pk ID_RICOGNIZIONE</text><text y="184.7">ak</text></g></g>

<g id="t-sist" class="tb" transform="translate(897.5,1753.5) rotate(-90)">
<rect width="157.5" height="138.5"/><path d="M0 10H157.5M0 104.5H157.5"/><text class="h" x="78.75" y="7.5">RICOGNIZIONE_SISTEMATICA</text>
<g transform="translate(2,0)"><text y="17">ID_SISTEMATICA varchar(8)</text><text y="23.2">ID_RICOGNIZIONE varchar(8)</text><text y="29.4">UNITA_TOPOGRAFICA varchar(10)</text><text y="35.6">CAMPO varchar(10)</text><text y="41.8">TRANSETTO varchar(10)</text><text y="48">ORIENTAMENTO varchar(10)</text><text y="54.2">LUNGHEZZA numeric</text><text y="60.4">LARGHEZZA numeric</text><text y="66.6">PENDENZA varchar(20)</text><text y="72.8">LAVORAZIONE varchar(30)</text><text y="79">VISIBILITA varchar(20)</text><text y="85.2">NUM_FRAMMENTI int</text><text y="91.4">DENSITA numeric</text><text y="97.6">NOTE text</text>
<text y="111">pk</text><text y="117.2">ID_SISTEMATICA</text><text y="123.4">ak</text><text y="129.6">fk ID_RICOGNIZIONE</text><text y="135.8">ak</text></g></g>

<g id="t-tipo-bib" class="tb" transform="translate(532,1983) rotate(-90)">
<rect width="74" height="48"/><path d="M0 10H74M0 30H74"/><text class="h" x="37" y="7.5">TIPOLOGIA_BIBLIO</text>
<g transform="translate(2,0)"><text y="17">ID_TIPO varchar(8)</text><text y="23.2">TIPOLOGIA varchar(30)</text>
<text y="36.5">pk</text><text y="42.7">fk ID_BIBLIO</text></g></g>

<g id="t-elem-bib" class="tb" transform="translate(655,1956) rotate(-90)">
<rect width="125" height="45"/><path d="M0 10H125M0 28H125"/><text class="h" x="62.5" y="7.5">ELEMENTO_DIAGNOSTICO_BIBLIO</text>
<g transform="translate(2,0)"><text y="17">ID_ELEMENTO varchar(8)</text><text y="23.2">ID_BIBLIOGRAFIA varchar(8)</text>
<text y="34.5">pk</text><text y="40.7">fk ID_BIBLIOGRAFIA</text></g></g>

<g id="t-interp-fa" class="tb" transform="translate(130,2142) rotate(-90)">
<rect width="128" height="47"/><path d="M0 10H128M0 28H128"/><text class="h" x="64" y="7.5">INTERPRETAZIONE_FONTI_ARCHIVIO</text>
<g transform="translate(2,0)"><text y="17">ID_INTERPRETAZIONE varchar(8)</text><text y="23.2">ID_FONTE_ARCHIVIO varchar(8)</text>
<text y="34.5">pk</text><text y="40.7">fk ID_FONTE_ARCHIVIO</text></g></g>

<g id="t-supp-fa" class="tb" transform="translate(201,2155) rotate(-90)">
<rect width="95" height="47"/><path d="M0 10H95M0 28H95"/><text class="h" x="47.5" y="7.5">SUPPORTO_FONTI_ARCHIVIO</text>
<g transform="translate(2,0)"><text y="17">ID_SUPPORTO varchar(8)</text><text y="23.2">ID_FONTE_ARCH varchar(8)</text>
<text y="34.5">pk</text><text y="40.7">fk ID_FONTE_ARCH</text></g></g>

<g id="t-ref5" class="tb" transform="translate(290,2128.5) rotate(-90)">
<rect width="100.5" height="80.5"/><path d="M0 10H100.5M0 28H100.5"/><text class="h" x="50.25" y="7.5">REFERENCE_5</text>
<g transform="translate(2,0)"><text y="17">ID_FONTE_ARCH varchar(8)</text><text y="23.2">ID_FONTE_ARCH_1 varchar(8)</text>
<text y="34.5">pk</text><text y="40.7">ID_FONTE_ARCH</text><text y="46.9">ID_FONTE_ARCH_1</text><text y="53.1">ak</text><text y="59.3">fk ID_FONTE_ARCH</text><text y="65.5">ak</text><text y="71.7">fk ID_FONTE_ARCH_1</text></g></g>

<g id="t-tele" class="tb" transform="translate(279,2322) rotate(-90)">
<rect width="143" height="231"/><path d="M0 10H143M0 195H143"/><text class="h" x="71.5" y="7.5">ARCHIVIO_TELERILEVAMENTO</text>
<g transform="translate(2,0)"><text y="17">ID_TELERILEVAMENTO varchar(8)</text><text y="23.2">ID_CONTESTO varchar(8)</text><text y="29.4">TIPO_FONTE varchar(30)</text><text y="35.6">ENTE_PROPRIETARIO varchar(50)</text><text y="41.8">STRISCIATA varchar(10)</text><text y="48">FOTOGRAMMA varchar(10)</text><text y="54.2">DATA_RIPRESA date</text><text y="60.4">QUOTA_VOLO numeric</text><text y="66.6">SCALA varchar(10)</text><text y="72.8">FOCALE numeric</text><text y="79">SENSORE varchar(30)</text><text y="85.2">RISOLUZIONE numeric</text><text y="91.4">BANDA varchar(20)</text><text y="97.6">FORMATO varchar(20)</text><text y="103.8">SUPPORTO varchar(20)</text><text y="110">TIPO_ANOMALIA varchar(30)</text><text y="116.2">FORMA_ANOMALIA varchar(30)</text><text y="122.4">DIMENSIONI varchar(30)</text><text y="128.6">ORIENTAMENTO varchar(10)</text><text y="134.8">VISIBILITA varchar(20)</text><text y="141">STAGIONE varchar(20)</text><text y="147.2">USO_SUOLO varchar(30)</text><text y="153.4">INTERPRETAZIONE text</text><text y="159.6">AFFIDABILITA varchar(20)</text><text y="165.8">FOTOINTERPRETE varchar(30)</text><text y="172">DATA_INTERPRETAZIONE date</text><text y="178.2">DESCRIZIONE text</text><text y="184.4">COMPILATORE varchar(30)</text><text y="190.6">NOTE text</text>
<text y="201.5">pk</text><text y="207.7">ID_TELERILEVAMENTO</text><text y="213.9">ak</text><text y="220.1">fk ID_CONTESTO</text><text y="226.3">ak</text></g></g>

<g id="t-interp-tr" class="tb" transform="translate(301,2495) rotate(-90)">
<rect width="124.5" height="45.5"/><path d="M0 10H124.5M0 28H124.5"/><text class="h" x="62.25" y="7.5">INTERPRETAZIONE_TRACCIA</text>
<g transform="translate(2,0)"><text y="17">ID_TRACCIA varchar(8)</text><text y="23.2">ID_TELERILEVAMENTO varchar(8)</text>
<text y="34.5">pk</text><text y="40.7">fk ID_TELERILEVAMENTO</text></g></g>

<g id="t-ref6" class="tb" transform="translate(445,2520) rotate(-90)">
<rect width="140" height="81"/><path d="M0 10H140M0 28H140"/><text class="h" x="70" y="7.5">REFERENCE_6</text>
<g transform="translate(2,0)"><text y="17">ID_TELERILEVAMENTO varchar(8)</text><text y="23.2">ID_TELERILEVAMENTO_1 varchar(8)</text>
<text y="34.5">pk</text><text y="40.7">ID_TELERILEVAMENTO</text><text y="46.9">ID_TELERILEVAMENTO_1</text><text y="53.1">ak</text><text y="59.3">fk ID_TELERILEVAMENTO</text><text y="65.5">ak</text><text y="71.7">fk ID_TELERILEVAMENTO_1</text></g></g>

<g id="t-bib" class="tb" transform="translate(646,2173) rotate(-90)">
<rect width="159" height="172"/><path d="M0 10H159M0 136H159"/><text class="h" x="79.5" y="7.5">ARCHIVIO_BIBLIOGRAFIA</text>
<g transform="translate(2,0)"><text y="17">ID_BIBLIOGRAFIA varchar(8)</text><text y="23.2">ID_CONTESTO varchar(8)</text><text y="29.4">AUTORE varchar(50)</text><text y="35.6">ANNO int</text><text y="41.8">TITOLO varchar(100)</text><text y="48">TITOLO_CONTENITORE varchar(100)</text><text y="54.2">CURATORE varchar(50)</text><text y="60.4">EDITORE varchar(50)</text><text y="66.6">LUOGO_EDIZIONE varchar(30)</text><text y="72.8">VOLUME varchar(10)</text><text y="79">FASCICOLO varchar(10)</text><text y="85.2">PAGINE varchar(20)</text><text y="91.4">FIGURE varchar(20)</text><text y="97.6">TAVOLE varchar(20)</text><text y="103.8">ABBREVIAZIONE varchar(30)</text><text y="110">TIPO_PUBBLICAZIONE varchar(30)</text><text y="116.2">ATTENDIBILITA varchar(20)</text><text y="122.4">COMPILATORE varchar(30)</text><text y="128.6">NOTE text</text>
<text y="142.5">pk</text><text y="148.7">ID_BIBLIOGRAFIA</text><text y="154.9">ak</text><text y="161.1">fk ID_CONTESTO</text><text y="167.3">ak</text></g></g>

<g id="t-periodo-bib" class="tb" transform="translate(534,2132) rotate(-90)">
<rect width="76" height="55"/><path d="M0 10H76M0 34H76"/><text class="h" x="38" y="7.5">PERIODO_BIBLIO</text>
<g transform="translate(2,0)"><text y="17">ID_PERIODO varchar(8)</text><text y="23.2">ID_BIBLIO varchar(8)</text><text y="29.4">PERIODO varchar(30)</text>
<text y="40.5">pk</text><text y="46.7">fk ID_BIBLIO</text><text y="52.9">ak</text></g></g>

<g id="t-interp-bib" class="tb" transform="translate(578.5,2298) rotate(-90)">
<rect width="104" height="46.5"/><path d="M0 10H104M0 28H104"/><text class="h" x="52" y="7.5">INTERPRETAZIONE_BIBLIO</text>
<g transform="translate(2,0)"><text y="17">ID_INTERPRETAZIONE varchar(8)</text><text y="23.2">ID_BIBLIOGRAFIA varchar(8)</text>
<text y="34.5">pk</text><text y="40.7">fk ID_BIBLIOGRAFIA</text></g></g>

<g id="t-autore-bib" class="tb" transform="translate(667,2282) rotate(-90)">
<rect width="74" height="48"/><path d="M0 10H74M0 28H74"/><text class="h" x="37" y="7.5">AUTORE_BIBLIO</text>
<g transform="translate(2,0)"><text y="17">ID_AUTORE varchar(8)</text><text y="23.2">ID_BIBLIO varchar(8)</text>
<text y="34.5">pk</text><text y="40.7">fk ID_BIBLIO</text></g></g>

<g id="t-ref7" class="tb" transform="translate(743,2356) rotate(-90)">
<rect width="89" height="81"/><path d="M0 10H89M0 28H89"/><text class="h" x="44.5" y="7.5">REFERENCE_7</text>
<g transform="translate(2,0)"><text y="17">ID_BIBLIO varchar(8)</text><text y="23.2">ID_BIBLIO_1 varchar(8)</text>
<text y="34.5">pk</text><text y="40.7">ID_BIBLIO</text><text y="46.9">ID_BIBLIO_1</text><text y="53.1">ak</text><text y="59.3">fk ID_BIBLIO</text><text y="65.5">ak</text><text y="71.7">fk ID_BIBLIO_1</text></g></g>

<g id="t-indagini" class="tb" transform="translate(877,2137) rotate(-90)">
<rect width="141" height="206"/><path d="M0 10H141M0 163H141"/><text class="h" x="70.5" y="7.5">ARCHIVIO_INDAGINI</text>
<g transform="translate(2,0)"><text y="17">ID_INDAGINE varchar(8)</text><text y="23.2">ID_CONTESTO varchar(8)</text><text y="29.4">TIPO_INDAGINE varchar(30)</text><text y="35.6">DENOMINAZIONE varchar(50)</text><text y="41.8">ENTE varchar(50)</text><text y="48">RESPONSABILE varchar(30)</text><text y="54.2">DATA_INIZIO date</text><text y="60.4">DATA_FINE date</text><text y="66.6">MOTIVAZIONE varchar(50)</text><text y="72.8">COMMITTENTE varchar(50)</text><text y="79">METODOLOGIA varchar(50)</text><text y="85.2">STRUMENTAZIONE varchar(50)</text><text y="91.4">SUPERFICIE numeric</text><text y="97.6">PROFONDITA numeric</text><text y="103.8">ESITO varchar(20)</text><text y="110">RISULTATI text</text><text y="116.2">DOCUMENTAZIONE varchar(50)</text><text y="122.4">RELAZIONE varchar(50)</text><text y="128.6">ARCHIVIO varchar(50)</text><text y="134.8">PROTOCOLLO varchar(20)</text><text y="141">DATA_PROTOCOLLO date</text><text y="147.2">COMPILATORE varchar(30)</text><text y="153.4">DATA_COMPILAZIONE date</text><text y="159.6">NOTE text</text>
<text y="169.5">pk</text><text y="175.7">ID_INDAGINE</text><text y="181.9">ak</text><text y="188.1">fk ID_CONTESTO</text><text y="194.3">ak</text><text y="200.5">ref</text></g></g>

<g id="t-doc" class="tb" transform="translate(1099,2143) rotate(-90)">
<rect width="123" height="180"/><path d="M0 10H123M0 129H123"/><text class="h" x="61.5" y="7.5">DOCUMENTAZIONE_GIS</text>
<g transform="translate(2,0)"><text y="17">ID_DOCUMENTO varchar(8)</text><text y="23.2">ID_INDAGINE varchar(8)</text><text y="29.4">TIPO_DOCUMENTO varchar(30)</text><text y="35.6">FORMATO varchar(20)</text><text y="41.8">SCALA varchar(10)</text><text y="48">AUTORE varchar(30)</text><text y="54.2">DATA date</text><text y="60.4">SISTEMA_RIFERIMENTO varchar(20)</text><text y="66.6">PROIEZIONE varchar(20)</text><text y="72.8">NOME_FILE varchar(50)</text><text y="79">PERCORSO varchar(100)</text><text y="85.2">DIMENSIONE numeric</text><text y="91.4">SOFTWARE varchar(30)</text><text y="97.6">VERSIONE varchar(10)</text><text y="103.8">DESCRIZIONE text</text><text y="110">COLLOCAZIONE varchar(50)</text><text y="116.2">LICENZA varchar(30)</text><text y="122.4">NOTE text</text>
<text y="135.5">pk</text><text y="141.7">ID_DOCUMENTO</text><text y="147.9">ak</text><text y="154.1">fk ID_INDAGINE</text><text y="160.3">ak</text><text y="166.5">fk ID_CONTESTO</text><text y="172.7">ak</text></g></g>

<g id="t-segnal" class="tb" transform="translate(847,2498) rotate(-90)">
<rect width="118" height="91"/><path d="M0 10H118M0 61H118"/><text class="h" x="59" y="7.5">SEGNALAZIONE</text>
<g transform="translate(2,0)"><text y="17">ID_SEGNALAZIONE varchar(8)</text><text y="23.2">ID_INDAGINE varchar(8)</text><text y="29.4">DATA date</text><text y="35.6">SEGNALATORE varchar(50)</text><text y="41.8">MOTIVO varchar(50)</text><text y="48">ESITO varchar(20)</text><text y="54.2">NOTE text</text>
<text y="67.5">pk</text><text y="73.7">ID_SEGNALAZIONE</text><text y="79.9">fk ID_INDAGINE</text><text y="86.1">ak</text></g></g>

<g id="t-sopral" class="tb" transform="translate(961,2502) rotate(-90)">
<rect width="117" height="90"/><path d="M0 10H117M0 60H117"/><text class="h" x="58.5" y="7.5">SOPRALLUOGO</text>
<g transform="translate(2,0)"><text y="17">ID_SOPRALLUOGO varchar(8)</text><text y="23.2">ID_INDAGINE varchar(8)</text><text y="29.4">DATA date</text><text y="35.6">FUNZIONARIO varchar(50)</text><text y="41.8">MOTIVO varchar(50)</text><text y="48">ESITO varchar(20)</text><text y="54.2">NOTE text</text>
<text y="66.5">pk</text><text y="72.7">ID_SOPRALLUOGO</text><text y="78.9">fk ID_INDAGINE</text><text y="85.1">ak</text></g></g>

<g id="t-sorv" class="tb" transform="translate(1074,2470) rotate(-90)">
<rect width="115" height="138"/><path d="M0 10H115M0 76H115"/><text class="h" x="57.5" y="7.5">SORVEGLIANZA</text>
<g transform="translate(2,0)"><text y="17">ID_SORVEGLIANZA varchar(8)</text><text y="23.2">ID_INDAGINE varchar(8)</text><text y="29.4">DATA_INIZIO date</text><text y="35.6">DATA_FINE date</text><text y="41.8">DITTA varchar(50)</text><text y="48">ARCHEOLOGO varchar(50)</text><text y="54.2">LAVORI varchar(50)</text><text y="60.4">ESITO varchar(20)</text><text y="66.6">NOTE text</text>
<text y="82.5">pk</text><text y="88.7">ID_SORVEGLIANZA</text><text y="94.9">ak</text><text y="101.1">fk ID_INDAGINE</text><text y="107.3">ak</text><text y="113.5">fk ID_DOCUMENTO</text><text y="119.7">ak</text><text y="125.9">ref</text></g></g>

<g id="legend" class="cy">
<g id="cy-quant">
<path d="M1638 2140A45 5 0 0 1 1728 2140V2218A45 5 0 0 1 1638 2218ZM1638 2140A45 5 0 0 0 1728 2140"/>
<g transform="translate(1638,2218) rotate(-90)">
<text class="h" x="39" y="13">QUANTIFICAZIONE</text>
<text x="2" y="20">ARCHIVIO_US</text><text x="2" y="26.2">ARCHIVIO_SU</text><text x="2" y="32.4">ARCHIVIO_STRUTTURE</text><text x="2" y="38.6">MATERIALI_STRUTTURE</text><text x="2" y="44.8">ARCHIVIO_TOMBE</text><text x="2" y="51">ARCHIVIO_CORREDI</text><text x="2" y="57.2">RITUALE_FUNERARIO</text><text x="2" y="63.4">ARCHIVIO_TMA</text><text x="2" y="69.6">ARCHIVIO_REPERTI</text><text x="2" y="75.8">ARCHIVIO_MANUFATTI</text><text x="2" y="82">ARCHIVIO_CAMPIONI</text></g></g>
<g id="cy-indag">
<path d="M1631 2264A48.5 5 0 0 1 1728 2264V2368A48.5 5 0 0 1 1631 2368ZM1631 2264A48.5 5 0 0 0 1728 2264"/>
<g transform="translate(1631,2368) rotate(-90)">
<text class="h" x="52" y="13">INDAGINI</text>
<text x="2" y="20">ARCHIVIO_TELERILEVAMENTO</text><text x="2" y="26.2">INTERPRETAZIONE_TRACCIA</text><text x="2" y="32.4">ARCHIVIO_SCAVO</text><text x="2" y="38.6">SAGGIO</text><text x="2" y="44.8">ARCHIVIO_RICOGNIZIONI</text><text x="2" y="51">RICOGNIZIONE_SISTEMATICA</text><text x="2" y="57.2">RICOGNIZIONI</text><text x="2" y="63.4">ARCHIVIO_INDAGINI</text><text x="2" y="69.6">DOCUMENTAZIONE_GIS</text><text x="2" y="75.8">SEGNALAZIONE</text><text x="2" y="82">SOPRALLUOGO</text><text x="2" y="88.2">SORVEGLIANZA</text></g></g>
<g id="cy-dati">
<path d="M1680 2413A24 5 0 0 1 1728 2413V2513A24 5 0 0 1 1680 2513ZM1680 2413A24 5 0 0 0 1728 2413"/>
<g transform="translate(1680,2513) rotate(-90)">
<text class="h" x="50" y="13">DATI_BIB_ARCHIVIO</text>
<text x="2" y="20">ARCHIVIO_BIBLIOGRAFIA</text><text x="2" y="26.2">ARCHIVIO_FONTI_ARCHIVIO</text><text x="2" y="32.4">ARCHIVIO_TUTELA</text><text x="2" y="38.6">ARCHIVIO_DATI_CATASTALI</text></g></g>
<g id="cy-gen">
<path d="M1689 2552A19.5 5 0 0 1 1728 2552V2628A19.5 5 0 0 1 1689 2628ZM1689 2552A19.5 5 0 0 0 1728 2552"/>
<g transform="translate(1689,2628) rotate(-90)">
<text class="h" x="38" y="13">GENERALE</text>
<text x="1" y="20">ARCHIVIO_GIORNALE</text><text x="1" y="26.2">ARCHIVIO_COORDINATE</text><text x="1" y="32.4" textLength="74" lengthAdjust="spacingAndGlyphs">ARCHIVIO_COORDINATE_GIS</text></g></g>
</g>

<g id="groups">
<ellipse class="grp" cx="308" cy="858" rx="227" ry="248.5" stroke="#e8353d"/>
<ellipse class="grp" cx="691" cy="451" rx="163" ry="203" stroke="#5cbf45"/>
<ellipse class="grp" cx="1255" cy="362" rx="405" ry="303" stroke="#5ea8df"/>
<ellipse class="grp" cx="948" cy="929" rx="343" ry="329" stroke="#5ea8df"/>
<ellipse class="grp" cx="1557" cy="1249" rx="255" ry="628" stroke="#5ea8df"/>
<ellipse class="grp" cx="1035" cy="1934" rx="202" ry="668" stroke="#5cbf45"/>
<ellipse class="grp" cx="456" cy="2139.5" rx="374" ry="405.5" stroke="#f0e23a"/>
<path class="grp" d="M103 522L176 656" stroke="#e8353d"/>
<path class="grp" d="M474 282L550 347" stroke="#5cbf45"/>
<path class="grp" d="M1222 668L1291 761L1264 789" stroke="#5ea8df"/>
<path class="grp" d="M90 2524L183 2419" stroke="#f0b040"/>
<path class="grp" d="M1210 2286L1301 2412" stroke="#5cbf45"/>
</g>

<g id="labels">
<text class="lbl" transform="translate(98,589) rotate(-90)" textLength="113" lengthAdjust="spacingAndGlyphs">Contesto</text>
<line class="ul" x1="102" y1="589" x2="102" y2="476"/>
<text class="lbl" transform="translate(467,450) rotate(-90)" textLength="305" lengthAdjust="spacingAndGlyphs">Indagini Archeologiche</text>
<line class="ul" x1="471" y1="450" x2="471" y2="145"/>
<text class="lbl" transform="translate(1323,881) rotate(-90)" textLength="204" lengthAdjust="spacingAndGlyphs">Quantificazione</text>
<line class="ul" x1="1327" y1="881" x2="1327" y2="677"/>
<text class="lbl" transform="translate(42,2600) rotate(-90)" textLength="246" lengthAdjust="spacingAndGlyphs">Dati Bibliograofici</text>
<line class="ul" x1="45" y1="2600" x2="45" y2="2354"/>
<text class="lbl" transform="translate(87,2598) rotate(-90)" textLength="168" lengthAdjust="spacingAndGlyphs">e di Archivio</text>
<line class="ul" x1="90" y1="2598" x2="90" y2="2430"/>
<text class="lbl" transform="translate(1335,2570) rotate(-90)" textLength="303" lengthAdjust="spacingAndGlyphs">Indagini Archeologiche</text>
<line class="ul" x1="1339" y1="2570" x2="1339" y2="2267"/>
</g>
</svg>
